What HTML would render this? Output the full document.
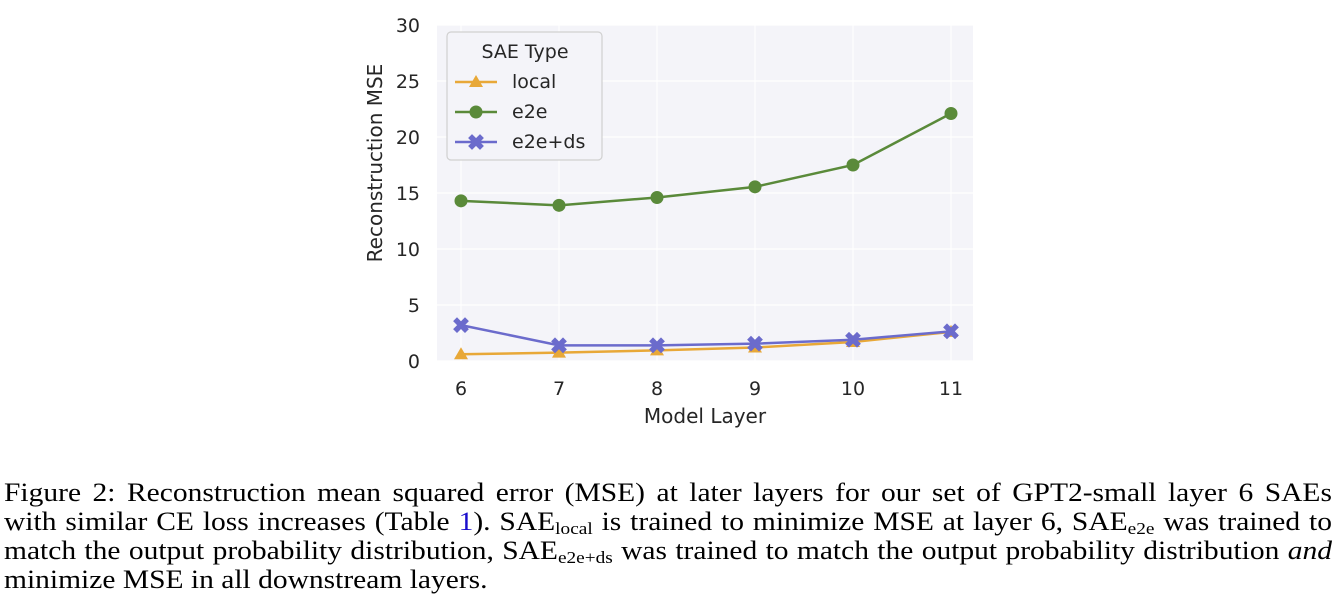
<!DOCTYPE html>
<html><head><meta charset="utf-8"><style>
body{margin:0;width:1339px;height:614px;background:#fff;overflow:hidden;position:relative;font-family:"Liberation Sans","DejaVu Sans",sans-serif}
.cap{position:absolute;left:4px;width:1170px;transform:scaleX(1.135);transform-origin:0 0;font-family:"Liberation Serif",serif;font-size:26px;color:#000;white-space:nowrap;text-align:justify;text-align-last:justify;line-height:29px}
.cap.last{text-align-last:left}
sub{font-size:17px;vertical-align:-4px;line-height:0}
</style></head><body>
<svg id="chart" width="1339" height="470" style="position:absolute;left:0;top:0" font-family="DejaVu Sans, Liberation Sans, sans-serif"></svg>
<div class="cap" style="top:478px">Figure 2: Reconstruction mean squared error (MSE) at later layers for our set of GPT2-small layer 6 SAEs</div>
<div class="cap" style="top:507px">with similar CE loss increases (Table <span style="color:#1a0dcc">1</span>). SAE<sub>local</sub> is trained to minimize MSE at layer 6, SAE<sub>e2e</sub> was trained to</div>
<div class="cap" style="top:536px">match the output probability distribution, SAE<sub>e2e+ds</sub> was trained to match the output probability distribution <i>and</i></div>
<div class="cap last" style="top:565px">minimize MSE in all downstream layers.</div>
<script>
const layers=[6,7,8,9,10,11];
const localVals=[0.6,0.75,0.95,1.2,1.7,2.6];
const e2eVals=[14.3,13.9,14.6,15.55,17.5,22.1];
const e2edsVals=[3.2,1.4,1.4,1.55,1.9,2.65];
const yTicks=[0,5,10,15,20,25,30];
const NS="http://www.w3.org/2000/svg";
const svg=document.getElementById('chart');
const X=v=>461+(v-6)*98, Y=v=>361-v*11.2;
function el(t,a,p){const e=document.createElementNS(NS,t);for(const k in a)e.setAttribute(k,a[k]);(p||svg).appendChild(e);return e;}
const bg=el('rect',{x:437,y:25,width:536,height:336,fill:'#f4f4f9'});


yTicks.forEach(v=>{
 el('line',{x1:437,x2:973,y1:Y(v),y2:Y(v),stroke:'#fff','stroke-width':1.2});
 const t=el('text',{x:420,y:Y(v)+7,'text-anchor':'end','font-size':19,fill:'#262626'});t.textContent=v;
 
 
});
layers.forEach(v=>{
 el('line',{x1:X(v),x2:X(v),y1:25,y2:361,stroke:'#fff','stroke-width':1.2});
 const t=el('text',{x:X(v),y:395,'text-anchor':'middle','font-size':19,fill:'#262626'});t.textContent=v;
 
 
});
const xt=el('text',{x:705,y:423,'text-anchor':'middle','font-size':20,fill:'#262626'});xt.textContent='Model Layer';


const yt=el('text',{x:0,y:0,'text-anchor':'middle','font-size':20,fill:'#262626',transform:'translate(382,163) rotate(-90)'});yt.textContent='Reconstruction MSE';


function marker(kind,cx,cy,c,g){
 if(kind==='tri')el('polygon',{points:`${cx},${cy-7} ${cx-7},${cy+5} ${cx+7},${cy+5}`,fill:c},g);
 else if(kind==='circ')el('circle',{cx,cy,r:6.5,fill:c},g);
 else el('path',{d:`M${cx-4},${cy-4}L${cx+4},${cy+4}M${cx+4},${cy-4}L${cx-4},${cy+4}`,stroke:c,'stroke-width':5.5,'stroke-linecap':'square'},g);
}
const series=[['local',localVals,'#e8a838','tri'],['e2e',e2eVals,'#5a8a3a','circ'],['e2e+ds',e2edsVals,'#6b6bcc','x']];
series.forEach(([n,vals,c,k])=>{
 const g=el('g',{});
 
 
 el('polyline',{points:vals.map((v,i)=>X(layers[i])+','+Y(v)).join(' '),fill:'none',stroke:c,'stroke-width':2.5},g);
 vals.forEach((v,i)=>marker(k,X(layers[i]),Y(v),c,g));
});
const lg=el('g',{});


el('rect',{x:447,y:32,width:155,height:128,rx:4,fill:'#f4f4f9',stroke:'#d0d0d0','stroke-width':1.2},lg);
const lt=el('text',{x:525,y:58,'text-anchor':'middle','font-size':19,fill:'#262626'},lg);lt.textContent='SAE Type';
series.forEach(([n,vals,c,k],i)=>{
 const y=82+i*30;
 const eg=el('g',{},lg);
 
 
 el('line',{x1:455,x2:497,y1:y,y2:y,stroke:c,'stroke-width':2.5},eg);
 marker(k,476,y,c,eg);
 const t=el('text',{x:512,y:y+6,'font-size':19,fill:'#262626'},eg);t.textContent=n;
});
</script>
</body></html>
